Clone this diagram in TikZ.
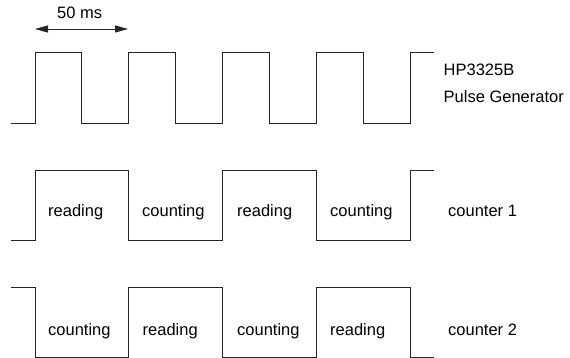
\documentclass[tikz,border=0pt]{standalone}
\usepackage{fontspec}
\setmainfont{Liberation Sans}
\usetikzlibrary{arrows.meta}
\begin{document}
\begin{tikzpicture}[x=1pt,y=-1pt,
  wave/.style={draw=black!85,line width=0.9pt,line join=miter},
  lbl/.style={anchor=base west,inner sep=0pt,font=\fontsize{16.5}{20}\selectfont},
  span/.style={draw=black!85,line width=0.9pt,
    {Triangle[length=13pt,width=7pt]}-{Triangle[length=13pt,width=7pt]}}]
  \useasboundingbox (0,0) rectangle (570,358);

  % pulse generator: 50 ms period square wave
  \draw[wave] (11,123) -- (35,123) -- (35,52) -- (81,52) -- (81,123)
    -- (128,123) -- (128,52) -- (175,52) -- (175,123)
    -- (222,123) -- (222,52) -- (269,52) -- (269,123)
    -- (316,123) -- (316,52) -- (363,52) -- (363,123)
    -- (410,123) -- (410,52) -- (434,52);

  % period marker
  \coordinate (p1) at (35,29);
  \coordinate (p2) at (128,29);
  \draw[span] (p1) -- (p2);
  \node[lbl] (period) at (57,18.5) {50 ms};

  \node[lbl] (gen1) at (443.5,76) {HP3325B};
  \node[lbl] (gen2) at (443.5,103) {Pulse Generator};

  % counter 1
  \draw[wave] (11,240) -- (35,240) -- (35,170) -- (128,170) -- (128,240)
    -- (222,240) -- (222,170) -- (316,170) -- (316,240)
    -- (410,240) -- (410,170) -- (434,170);
  \node[lbl] (c1a) at (48,217) {reading};
  \node[lbl] (c1b) at (142,217) {counting};
  \node[lbl] (c1c) at (237,217) {reading};
  \node[lbl] (c1d) at (330,217) {counting};
  \node[lbl] (c1) at (448,217) {counter 1};

  % counter 2
  \draw[wave] (11,287) -- (35,287) -- (35,357) -- (128,357) -- (128,287)
    -- (222,287) -- (222,357) -- (316,357) -- (316,287)
    -- (410,287) -- (410,357) -- (434,357);
  \node[lbl] (c2a) at (48,335.5) {counting};
  \node[lbl] (c2b) at (142.5,335.5) {reading};
  \node[lbl] (c2c) at (237,335.5) {counting};
  \node[lbl] (c2d) at (330,335.5) {reading};
  \node[lbl] (c2) at (448,335.5) {counter 2};
\end{tikzpicture}
\end{document}
